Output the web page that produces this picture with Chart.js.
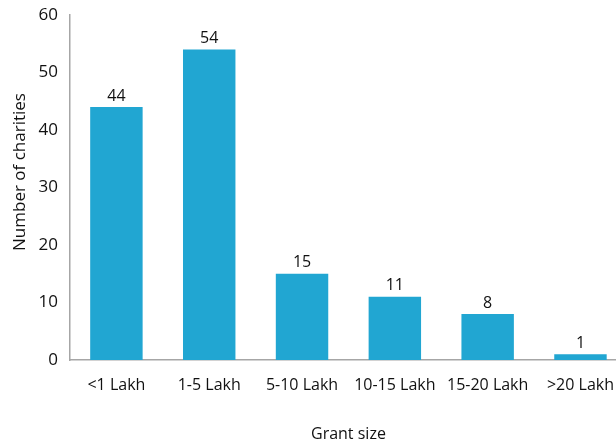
<!DOCTYPE html>
<html>
<head>
<meta charset="utf-8">
<script src="https://cdn.jsdelivr.net/npm/chart.js@4"></script>
<style>
  html, body { margin: 0; padding: 0; background: #fff; overflow: hidden; }
  #wrap { width: 630px; height: 444px; }
</style>
</head>
<body>
<div id="wrap"><canvas id="chart" width="630" height="444"></canvas></div>
<script>
const categories = ['<1 Lakh', '1-5 Lakh', '5-10 Lakh', '10-15 Lakh', '15-20 Lakh', '>20 Lakh'];
const charities = [44, 54, 15, 11, 8, 1];
const yTicks = [0, 10, 20, 30, 40, 50, 60];
const yTitle = 'Number of charities';

const FONT = '"Open Sans", sans-serif';

// value labels above each bar, plus the y title (sits a bit above the plot centre in the original)
const extras = {
  id: 'extras',
  afterDatasetsDraw(chart) {
    const { ctx } = chart;
    const meta = chart.getDatasetMeta(0);
    ctx.save();
    ctx.font = `16px ${FONT}`;
    ctx.fillStyle = '#111';
    ctx.textAlign = 'center';
    ctx.textBaseline = 'bottom';
    meta.data.forEach((bar, i) => {
      ctx.fillText(String(charities[i]), bar.x, bar.y - 3);
    });
    ctx.translate(20, 172);
    ctx.rotate(-Math.PI / 2);
    ctx.textBaseline = 'middle';
    ctx.font = `17px ${FONT}`;
    ctx.fillText(yTitle, 0, 0);
    ctx.restore();
  },
};

new Chart(document.getElementById('chart'), {
  type: 'bar',
  data: {
    labels: categories,
    datasets: [{
      data: charities,
      backgroundColor: '#21A6D2',
      borderWidth: 0,
      barPercentage: 0.565,
      categoryPercentage: 1,
    }],
  },
  options: {
    responsive: false,
    animation: false,
    layout: { padding: { top: 15, right: 0, bottom: 0, left: 0 } },
    plugins: { legend: { display: false }, tooltip: { enabled: false } },
    scales: {
      x: {
        grid: { display: false, drawTicks: false },
        border: { display: true, color: '#A6A6A6', width: 1.5 },
        ticks: { color: '#111', font: { family: FONT, size: 16 }, padding: 16, maxRotation: 0, autoSkip: false },
        title: { display: true, text: 'Grant size', color: '#111', font: { family: FONT, size: 16 }, padding: { top: 0, bottom: 0 } },
        afterFit(scale) { scale.height = 84; },
      },
      y: {
        min: 0,
        max: 60,
        afterBuildTicks(scale) { scale.ticks = yTicks.map(v => ({ value: v })); },
        grid: { display: false, drawTicks: false },
        border: { display: true, color: '#A6A6A6', width: 1.5 },
        ticks: { color: '#111', font: { family: FONT, size: 17 }, padding: 12 },
        afterFit(scale) {
          scale.width = 70;
          scale.paddingTop = 0;
          scale.paddingBottom = 0;
        },
      },
    },
  },
  plugins: [extras],
});
</script>
</body>
</html>
